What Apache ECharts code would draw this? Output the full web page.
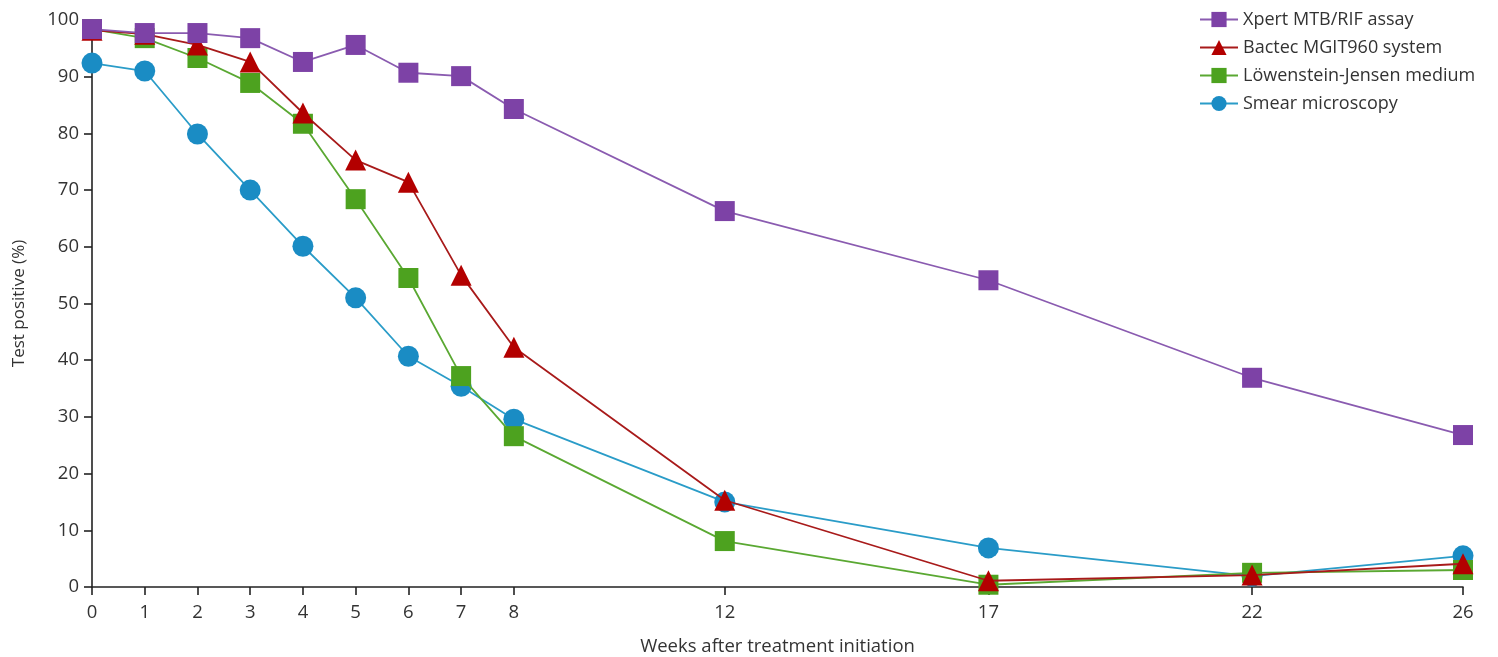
<!DOCTYPE html>
<html><head><meta charset="utf-8">
<script src="https://cdn.jsdelivr.net/npm/echarts@6/dist/echarts.min.js"></script>
<style>html,body{margin:0;padding:0;background:#fff}#c{width:1498px;height:657px}</style>
</head><body><div id="c"></div>
<script>
const weeks = [0,1,2,3,4,5,6,7,8,12,17,22,26];
const xpert  = [98.4,97.7,97.7,96.8,92.6,95.6,90.7,90.1,84.3,66.3,54.1,36.9,26.8];
const bactec = [98.2,97.5,95.6,92.6,83.6,75.3,71.4,55.0,42.3,15.3,1.1,2.1,4.1];
const lj     = [98.4,96.8,93.3,88.9,81.7,68.4,54.5,37.2,26.6,8.1,0.4,2.5,3.0];
const smear  = [92.4,91.0,79.9,70.0,60.1,51.0,40.7,35.4,29.6,15.0,6.9,1.9,5.5];
const names = ['Xpert MTB/RIF assay','Bactec MGIT960 system','Löwenstein-Jensen medium','Smear microscopy'];

const font = '"Open Sans", "Noto Sans", sans-serif';
const pairs = a => weeks.map((w,i)=>[w,a[i]]);
function s(name, data, color, lineColor, symbol, size, z){
  return {name, type:'line', data:pairs(data), symbol, symbolSize:size, z,
    itemStyle:{color, opacity:1}, lineStyle:{color:lineColor, width:1.8},
    emphasis:{disabled:true}, animation:false};
}
const chart = echarts.init(document.getElementById('c'));
chart.setOption({
  animation:false,
  grid:{left:92, right:35, top:20, bottom:70, outerBoundsMode:'none', containLabel:false},
  legend:{orient:'vertical', left:1194, top:5, itemWidth:38, itemHeight:19, itemGap:9,
    data:names, textStyle:{fontFamily:font, fontSize:18, color:'#333', lineHeight:19}, selectedMode:false},
  xAxis:{type:'value', min:0, max:26, name:'Weeks after treatment initiation', nameLocation:'middle', nameGap:50,
    nameTextStyle:{fontFamily:font, fontSize:18.5, color:'#333'},
    splitLine:{show:false},
    axisLine:{lineStyle:{color:'#222', width:1.6}},
    axisTick:{customValues:weeks, length:8, lineStyle:{color:'#222', width:1.6}},
    axisLabel:{customValues:weeks, fontFamily:font, fontSize:18.5, color:'#333', margin:16}},
  yAxis:{type:'value', min:0, max:100, interval:10, name:'Test positive (%)', nameLocation:'middle', nameGap:64,
    nameTextStyle:{fontFamily:font, fontSize:17, color:'#333'},
    splitLine:{show:false},
    axisLine:{show:true, lineStyle:{color:'#222', width:1.6}},
    axisTick:{show:true, length:8, lineStyle:{color:'#222', width:1.6}},
    axisLabel:{fontFamily:font, fontSize:18.5, color:'#333', margin:13}},
  series:[
    s(names[3], smear, '#1a8cc4', '#2a9cc8', 'circle', 21, 1),
    s(names[2], lj, '#4da21f', '#5aa832', 'rect', 20, 2),
    s(names[1], bactec, '#b30000', '#a81a1a', 'triangle', 21, 3),
    s(names[0], xpert, '#7d42a6', '#8a5bb0', 'rect', 20, 4)
  ]
});
</script></body></html>
